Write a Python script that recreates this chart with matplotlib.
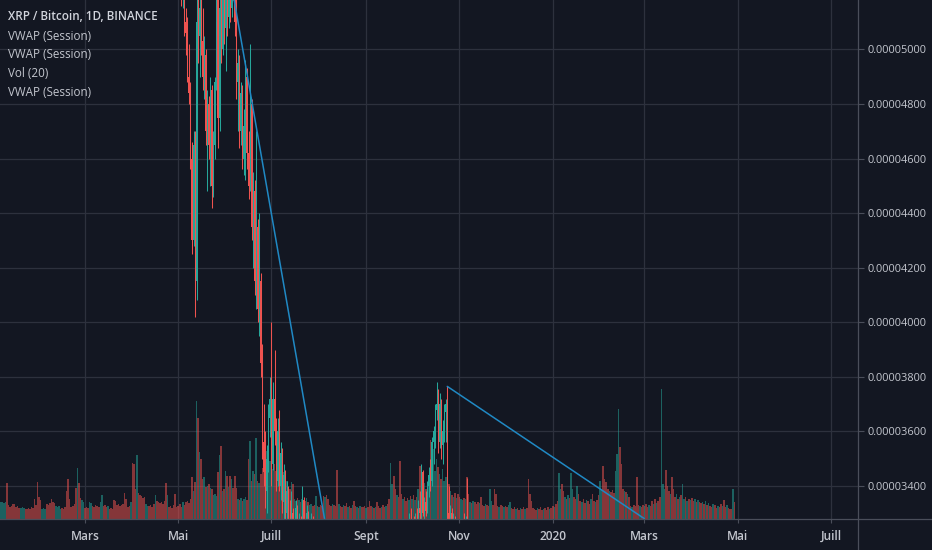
import datetime as dt
import matplotlib
matplotlib.use("Agg")
import matplotlib.pyplot as plt
import matplotlib.dates as mdates
from matplotlib.lines import Line2D
from matplotlib.ticker import FuncFormatter, FixedLocator

# ---------------- data ----------------
# daily volume (arbitrary units) from 2019-01-04
vol_start = "2019-01-04"
volume = [
    13,17,17,16,17,36,14,12,13,15,15,12,13,11,11,12,11,10,10,11,
    10,12,11,20,14,37,22,19,10,11,10,15,14,16,20,17,16,13,12,13,
    10,11,10,12,28,40,20,12,13,15,31,51,36,21,19,17,11,12,11,17,
    16,13,12,14,13,12,17,24,13,14,12,13,10,11,10,19,18,14,15,13,
    14,15,26,20,12,13,17,56,55,30,64,26,24,23,21,22,15,13,13,14,
    12,15,24,18,17,16,17,15,18,36,24,12,13,11,14,25,12,13,15,12,
    17,14,17,18,16,20,42,28,37,117,100,67,60,40,42,32,33,35,31,30,
    24,25,23,47,64,73,28,30,48,43,32,43,40,31,43,31,20,19,21,18,
    20,22,19,60,78,38,48,45,81,38,36,45,51,50,62,68,55,58,52,50,
    55,48,86,62,50,52,47,41,38,31,30,37,35,20,18,21,19,17,20,19,
    18,21,17,14,15,13,14,23,13,12,14,13,23,22,24,20,14,13,15,14,
    13,49,15,13,12,14,13,16,12,13,11,14,18,13,12,11,13,12,12,13,
    11,12,18,13,12,11,12,17,13,11,12,14,12,13,15,20,56,35,43,30,
    24,22,58,25,20,22,18,21,19,23,20,24,19,22,30,53,45,33,36,30,
    34,38,79,55,70,48,60,52,45,40,50,38,42,55,35,28,24,22,26,21,
    25,22,20,19,21,20,42,25,17,16,18,17,15,17,16,22,14,13,15,14,
    13,30,18,14,30,25,13,12,14,13,12,13,12,14,17,11,10,12,10,11,
    9,11,10,12,10,11,40,25,18,11,10,9,11,10,12,9,10,11,9,12,
    10,11,13,12,15,18,46,30,35,28,22,20,24,21,46,30,22,20,33,25,
    18,17,20,16,19,18,15,20,25,18,17,19,24,38,30,53,40,37,30,28,
    27,29,26,48,65,109,72,55,30,28,27,25,22,13,12,14,13,42,14,13,
    12,14,13,15,12,14,13,18,15,20,16,18,22,129,35,30,49,33,28,25,
    42,30,22,25,20,22,24,35,20,22,18,20,19,21,18,20,17,19,17,16,
    17,15,18,14,16,13,12,15,14,11,13,12,15,13,19,12,14,11,10,10,
    30,17,
]
# days (index from vol_start) whose volume bar is an up (teal) bar
up_days = [1,2,3,4,14,15,16,28,29,30,37,38,39,40,51,54,55,59,60,66,67,71,86,90,
           96,97,102,110,115,207,209,213,218,222,225,228,231,234,236,240,244,246,
           250,253,256,257,260,264,308,310,314,318,321,322,327,330,333,334,338,
           341,344,352,356,360,363,366,367,370,372,374,375,378,381,384,387,390,
           393,394,399,403,404,405,409,411,414,419,422,425,428,430,433,434,435,
           439,443,445,447,448,450,452,455,457,460,462,464,467,470,473,476,480]

# candles, prices in satoshi (1e-8 BTC)
seg1_start = "2019-04-29"
seg1_open  = [5650,5560,5450,5340,5260,5200,5240,5100,5060,4900,4840,4600,4300,4650,4150,
              5100,5050,5150,5030,4900,4980,4700,4800,4650,4850,4500,4650,4880,5200,4750,
              5150,5000,5220,5080,5180,5120,5280,5150,5300,5250,5100,4880,4950,4700,4840,
              4600,4720,4900,4620,4500,4800,4350,4480,4150,4350,4050,4150,3850,3560,3450,
              3380,3500,3650,3720,3480,3720,3600,3420,3600,3400,3520,3340,3440,3300,3380,
              3250,3200,3300,3180,3230,3320,3180,3270,3150,3350,3220,3120,3300,3110,3180,
              3280]
seg1_high  = [5720,5620,5520,5400,5330,5290,5280,5150,5120,5020,4880,4660,4700,4700,5250,
              5300,5200,5300,5150,5050,5000,4850,4830,4900,4870,4700,4900,5300,5250,5250,
              5250,5300,5350,5250,5300,5350,5400,5350,5450,5320,5200,5000,4980,4880,4870,
              4780,4960,4930,4700,5020,4820,4550,4520,4700,4380,4400,4180,3920,3700,3600,
              3550,3700,3800,4000,3780,3900,3650,3650,3680,3560,3540,3480,3460,3420,3400,
              3350,3380,3320,3260,3350,3330,3300,3290,3400,3360,3250,3330,3310,3200,3300,
              3290]
seg1_low   = [5520,5420,5300,5200,5160,5150,5050,4980,4880,4800,4560,4250,4280,4020,4080,
              4950,4900,4980,4850,4820,4650,4480,4600,4500,4420,4460,4600,4850,4640,4700,
              4950,4980,5020,4920,5050,5080,5100,5120,5180,5050,4820,4700,4640,4650,4560,
              4540,4520,4560,4450,4480,4300,4200,4100,4050,4000,3950,3800,3500,3400,3320,
              3300,3450,3580,3400,3460,3550,3380,3400,3380,3350,3300,3280,3250,3200,3200,
              3150,3150,3150,3100,3180,3150,3120,3130,3140,3200,3100,3100,3100,3050,3160,
              3050]
seg1_close = [5560,5450,5340,5260,5200,5240,5100,5060,4900,4840,4600,4300,4650,4150,5100,
              5050,5150,5030,4900,4980,4700,4800,4650,4850,4500,4650,4880,5200,4750,5150,
              5000,5220,5080,5180,5120,5280,5150,5300,5250,5100,4880,4950,4700,4840,4600,
              4720,4900,4620,4500,4800,4350,4480,4150,4350,4050,4150,3850,3560,3450,3380,
              3500,3650,3720,3480,3720,3600,3420,3600,3400,3520,3340,3440,3300,3380,3250,
              3200,3300,3180,3230,3320,3180,3270,3150,3350,3220,3120,3300,3110,3180,3280,
              3080]

seg2_start = "2019-09-29"
seg2_open  = [3150,3250,3220,3260,3200,3280,3230,3320,3300,3450,3300,3340,3310,3400,3440,
              3420,3560,3600,3680,3700,3560,3700,3550,3600,3670,3700,3300,3200,3300,3220,
              3260,3170,3200,3150,3120,3150,3230,3200,3270,3250]
seg2_high  = [3300,3320,3280,3290,3300,3320,3350,3380,3480,3460,3360,3380,3420,3470,3500,
              3580,3620,3700,3780,3755,3740,3720,3640,3700,3720,3765,3400,3330,3320,3300,
              3290,3250,3230,3200,3180,3250,3300,3290,3430,3280]
seg2_low   = [3100,3200,3150,3180,3170,3200,3220,3260,3280,3290,3250,3290,3300,3360,3380,
              3400,3480,3540,3640,3520,3540,3500,3480,3560,3560,3260,3150,3150,3180,3150,
              3150,3100,3120,3080,3060,3120,3180,3150,3200,3150]
seg2_close = [3250,3220,3260,3200,3280,3230,3320,3300,3450,3300,3340,3310,3400,3440,3420,
              3560,3600,3680,3700,3560,3700,3550,3600,3670,3700,3300,3200,3300,3220,3260,
              3170,3200,3150,3120,3150,3230,3200,3270,3250,3180]

# drawn trend lines (date, price in satoshi)
trend1_dates, trend1_prices = ["2019-06-06", "2019-08-05"], [5200, 3270]
trend2_dates, trend2_prices = ["2019-10-24", "2020-03-01"], [3765, 3280]

price_ticks = [3400, 3600, 3800, 4000, 4200, 4400, 4600, 4800, 5000]
month_ticks = ["2019-03-01", "2019-05-01", "2019-07-01", "2019-09-01", "2019-11-01",
               "2020-01-01", "2020-03-01", "2020-05-01", "2020-07-01"]
month_labels = ["Mars", "Mai", "Juill", "Sept", "Nov", "2020", "Mars", "Mai", "Juill"]

legend_title = "XRP / Bitcoin, 1D, BINANCE"
legend_lines = ["VWAP (Session)", "VWAP (Session)", "Vol (20)", "VWAP (Session)"]

# ---------------- style ----------------
BG = "#131722"
UP = "#26a69a"
DOWN = "#ef5350"
GRID = "#2d313d"
SEP = "#4a4e5a"
LINE = "#2089c4"
plt.rcParams["font.family"] = ["Open Sans", "DejaVu Sans"]

def dnum(s):
    return mdates.date2num(dt.datetime.strptime(s, "%Y-%m-%d"))

W, H = 932, 550
fig = plt.figure(figsize=(W / 100, H / 100), dpi=100, facecolor=BG)
rect = [0, 31 / H, 858 / W, 519 / H]
ax_bg = fig.add_axes(rect)
ax_bg.set_facecolor(BG)
ax_vol = fig.add_axes(rect, sharex=ax_bg)
ax_vol.patch.set_visible(False)
ax_c = fig.add_axes(rect, sharex=ax_bg)
ax_c.patch.set_visible(False)

v0 = dnum(vol_start)
ax_bg.set_xlim(v0 + 0.4, v0 + 561.7)
ymin, ymax = 3279, 5181
ax_bg.set_ylim(ymin, ymax)
ax_c.set_ylim(ymin, ymax)

# volume colours: from candles where available, else from up_days
cand_dir = {}
for start, o_, c_ in ((seg1_start, seg1_open, seg1_close), (seg2_start, seg2_open, seg2_close)):
    s0 = int(round(dnum(start) - v0))
    for i, (o, c) in enumerate(zip(o_, c_)):
        cand_dir[s0 + i] = c >= o
upset = set(up_days)
vx = [v0 + i for i in range(len(volume))]
vcol = []
for i in range(len(volume)):
    up = cand_dir[i] if i in cand_dir else (i in upset)
    vcol.append(UP if up else DOWN)
ax_vol.bar(vx, volume, width=1.0, color=vcol, alpha=0.52, linewidth=0)
ax_vol.set_ylim(0, max(volume) * 4.0)
ax_vol.axis("off")

# candles
for start, o_, h_, l_, c_ in ((seg1_start, seg1_open, seg1_high, seg1_low, seg1_close),
                              (seg2_start, seg2_open, seg2_high, seg2_low, seg2_close)):
    s = dnum(start)
    xs = [s + i for i in range(len(o_))]
    cols = [UP if c >= o else DOWN for o, c in zip(o_, c_)]
    ax_c.vlines(xs, l_, h_, colors=cols, linewidth=0.75)
    ax_c.bar(xs, [max(abs(c - o), 8) for o, c in zip(o_, c_)],
             bottom=[min(o, c) for o, c in zip(o_, c_)], width=0.7, color=cols, linewidth=0)

# trend lines
ax_c.plot([dnum(d) for d in trend1_dates], trend1_prices, color=LINE, lw=1.1, solid_capstyle="round")
ax_c.plot([dnum(d) for d in trend2_dates], trend2_prices, color=LINE, lw=1.1, solid_capstyle="round")
ax_c.axis("off")

# grid & ticks on background axes
ax_bg.xaxis.set_major_locator(FixedLocator([dnum(d) for d in month_ticks]))
ax_bg.set_xticklabels(month_labels)
ax_bg.yaxis.set_major_locator(FixedLocator(price_ticks))
ax_bg.yaxis.set_major_formatter(FuncFormatter(lambda v, p: f"{v * 1e-8:.8f}"))
ax_bg.yaxis.tick_right()
ax_bg.grid(True, color=GRID, linewidth=0.9)
ax_bg.tick_params(axis="x", colors=SEP, labelcolor="#c3c6ce", length=3, width=0.8, pad=5,
                  labelsize=8.6)
ax_bg.tick_params(axis="y", colors=SEP, labelcolor="#c3c6ce", length=4, width=0.8, pad=2.5,
                  labelsize=7.9)
for lab in ax_bg.get_xticklabels():
    lab.set_fontweight("semibold")
for sp in ax_bg.spines.values():
    sp.set_visible(False)

# separators
fig.add_artist(Line2D([0, 1], [31 / H, 31 / H], transform=fig.transFigure, color=SEP, lw=0.9))
fig.add_artist(Line2D([858 / W, 858 / W], [0, 1], transform=fig.transFigure, color=SEP, lw=0.9))

# legend texts
fig.text(8 / W, 1 - 17 / H, legend_title, color="#d1d4dc", fontsize=8.4, fontweight="semibold",
         va="center", ha="left")
for k, t in enumerate(legend_lines):
    fig.text(8 / W, 1 - (36 + 18.7 * k) / H, t, color="#c3c6ce", fontsize=8.4, va="center", ha="left")

fig.savefig("out.png", dpi=100, facecolor=BG)
